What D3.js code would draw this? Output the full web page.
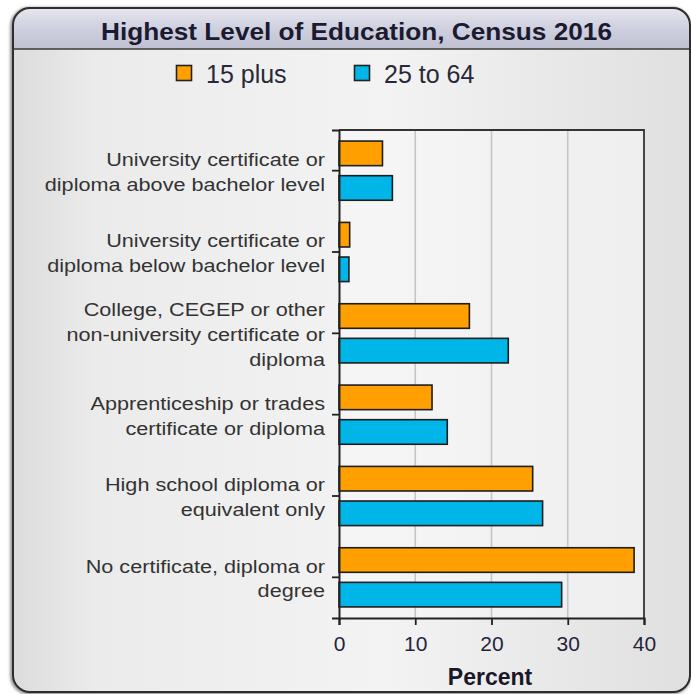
<!DOCTYPE html>
<html>
<head>
<meta charset="utf-8">
<script src="https://cdn.jsdelivr.net/npm/d3@7/dist/d3.min.js"></script>
<style>
  html, body { margin: 0; padding: 0; background: #ffffff; }
  svg { display: block; }
</style>
</head>
<body>
<svg id="chart" width="691" height="694"></svg>
<script>
// Highest level of education, Census 2016 (percent of population)
const categories = [
  ["University certificate or", "diploma above bachelor level"],
  ["University certificate or", "diploma below bachelor level"],
  ["College, CEGEP or other", "non-university certificate or", "diploma"],
  ["Apprenticeship or trades", "certificate or diploma"],
  ["High school diploma or", "equivalent only"],
  ["No certificate, diploma or", "degree"]
];
const seriesNames = ["15 plus", "25 to 64"];
const plus15 = [5.7, 1.4, 17.1, 12.2, 25.4, 38.7];
const age25to64 = [7.0, 1.3, 22.2, 14.2, 26.7, 29.2];
const xTicks = [0, 10, 20, 30, 40];
const colors = ["#ffa000", "#00b6e8"];
const title = "Highest Level of Education, Census 2016";
const axisTitle = "Percent";

const FONT = "'Liberation Sans', Arial, sans-serif";
const svg = d3.select("#chart");
const defs = svg.append("defs");

// panel background: light grey, darker toward the edges
const bg = defs.append("linearGradient").attr("id", "panelBg").attr("x1", 0).attr("x2", 1).attr("y1", 0).attr("y2", 0);
bg.append("stop").attr("offset", "0%").attr("stop-color", "#dcdcdc");
bg.append("stop").attr("offset", "12%").attr("stop-color", "#ebebeb");
bg.append("stop").attr("offset", "55%").attr("stop-color", "#f3f3f3");
bg.append("stop").attr("offset", "100%").attr("stop-color", "#e0e0e0");

// title bar gradient
const tg = defs.append("linearGradient").attr("id", "titleBg").attr("x1", 0).attr("x2", 0).attr("y1", 0).attr("y2", 1);
tg.append("stop").attr("offset", "0%").attr("stop-color", "#e6e6ee");
tg.append("stop").attr("offset", "45%").attr("stop-color", "#d0d2e0");
tg.append("stop").attr("offset", "100%").attr("stop-color", "#bfc1d3");

const shadow = defs.append("filter").attr("id", "soft").attr("x", "-5%").attr("y", "-5%").attr("width", "110%").attr("height", "110%");
shadow.append("feGaussianBlur").attr("stdDeviation", 1.6);

const fx = 13, fy = 8, fw = 677, fh = 684, r = 17;

// frame shadow
svg.append("rect").attr("x", fx - 1).attr("y", fy + 1).attr("width", fw).attr("height", fh)
  .attr("rx", r).attr("fill", "none").attr("stroke", "#777").attr("stroke-width", 3).attr("filter", "url(#soft)");

svg.append("rect").attr("x", fx).attr("y", fy).attr("width", fw).attr("height", fh)
  .attr("rx", r).attr("fill", "url(#panelBg)");

// title bar with rounded top corners
const tbH = 41;
svg.append("path")
  .attr("d", `M${fx},${fy + tbH} V${fy + r} Q${fx},${fy} ${fx + r},${fy} H${fx + fw - r} Q${fx + fw},${fy} ${fx + fw},${fy + r} V${fy + tbH} Z`)
  .attr("fill", "url(#titleBg)");
svg.append("line").attr("x1", fx).attr("x2", fx + fw).attr("y1", fy + tbH).attr("y2", fy + tbH)
  .attr("stroke", "#3a3a3a").attr("stroke-width", 1.6);

svg.append("rect").attr("x", fx).attr("y", fy).attr("width", fw).attr("height", fh)
  .attr("rx", r).attr("fill", "none").attr("stroke", "#2e2e2e").attr("stroke-width", 2);

svg.append("text").attr("x", 101).attr("y", 39.5)
  .attr("font-family", FONT).attr("font-weight", "bold").attr("font-size", 24.5)
  .attr("fill", "#1c1a30").attr("textLength", 511).attr("lengthAdjust", "spacingAndGlyphs")
  .text(title);

// legend
const legendX = [176, 354];
seriesNames.forEach((name, i) => {
  const g = svg.append("g").attr("transform", `translate(${legendX[i]},65)`);
  g.append("rect").attr("x", 0.5).attr("y", 0.5).attr("width", 15).attr("height", 15)
    .attr("fill", colors[i]).attr("stroke", "#222").attr("stroke-width", 1.6);
  g.append("text").attr("x", 30).attr("y", 17.5).attr("font-family", FONT)
    .attr("font-size", 25).attr("fill", "#2a2838").text(name);
});

// scales
const plotL = 339, plotR = 644, plotT = 130, plotB = 618;
const x = d3.scaleLinear().domain([0, 40]).range([plotL, plotR]);
const y = d3.scaleBand().domain(d3.range(categories.length)).range([plotT, plotB]);
const yInner = d3.scaleBand().domain([0, 1]).range([0, y.bandwidth()]).paddingInner(0.29).paddingOuter(0.32);

// plot area
svg.append("rect").attr("x", plotL).attr("y", plotT).attr("width", plotR - plotL).attr("height", plotB - plotT)
  .attr("fill", "#f6f6f6").attr("fill-opacity", 0.6);

// gridlines
svg.append("g").selectAll("line").data(xTicks.filter(t => t > 0 && t < 40)).join("line")
  .attr("x1", d => x(d)).attr("x2", d => x(d)).attr("y1", plotT).attr("y2", plotB)
  .attr("stroke", "#c6c6c6").attr("stroke-width", 1.6);

// bars
const data = [];
categories.forEach((c, i) => {
  [plus15, age25to64].forEach((arr, s) => data.push({ cat: i, s, v: arr[i] }));
});
svg.append("g").selectAll("rect").data(data).join("rect")
  .attr("x", x(0))
  .attr("y", d => y(d.cat) + yInner(d.s))
  .attr("width", d => x(d.v) - x(0))
  .attr("height", yInner.bandwidth())
  .attr("fill", d => colors[d.s])
  .attr("stroke", "#1e1e1e").attr("stroke-width", 1.6);

// plot frame top and right
svg.append("path").attr("d", `M${plotL},${plotT} H${plotR} V${plotB}`)
  .attr("fill", "none").attr("stroke", "#333").attr("stroke-width", 1.8);

// x axis
const xAxis = svg.append("g").attr("transform", `translate(0,${plotB})`)
  .call(d3.axisBottom(x).tickValues(xTicks).tickSize(7));
xAxis.select(".domain").attr("stroke", "#222").attr("stroke-width", 2);
xAxis.selectAll(".tick line").attr("stroke", "#222").attr("stroke-width", 1.8);
xAxis.selectAll(".tick text").attr("font-family", FONT)
  .attr("font-size", 21).attr("fill", "#24243a").attr("y", 33).attr("dy", 0);

svg.append("text").attr("x", 490).attr("y", 685).attr("text-anchor", "middle")
  .attr("font-family", FONT).attr("font-weight", "bold")
  .attr("font-size", 23).attr("fill", "#1a1828").text(axisTitle);

// y axis
const yAxis = svg.append("g").attr("transform", `translate(${plotL},0)`)
  .call(d3.axisLeft(y).tickSize(7).tickFormat(""));
yAxis.select(".domain").attr("stroke", "#222").attr("stroke-width", 2);
yAxis.selectAll(".tick line").attr("stroke", "#222").attr("stroke-width", 1.8);

// multi-line category labels, slightly widened type
const lineH = 25;
const labels = svg.append("g").attr("font-family", FONT)
  .attr("font-size", 18.5).attr("fill", "#333").attr("text-anchor", "end");
categories.forEach((lines, i) => {
  const cy = y(i) + y.bandwidth() / 2;
  const t = labels.append("text").attr("transform", `translate(325,${cy + 1}) scale(1.17,1)`);
  lines.forEach((ln, k) => {
    t.append("tspan").attr("x", 0)
      .attr("y", (k - (lines.length - 1) / 2) * lineH)
      .attr("dy", "0.36em").text(ln);
  });
});
</script>
</body>
</html>
